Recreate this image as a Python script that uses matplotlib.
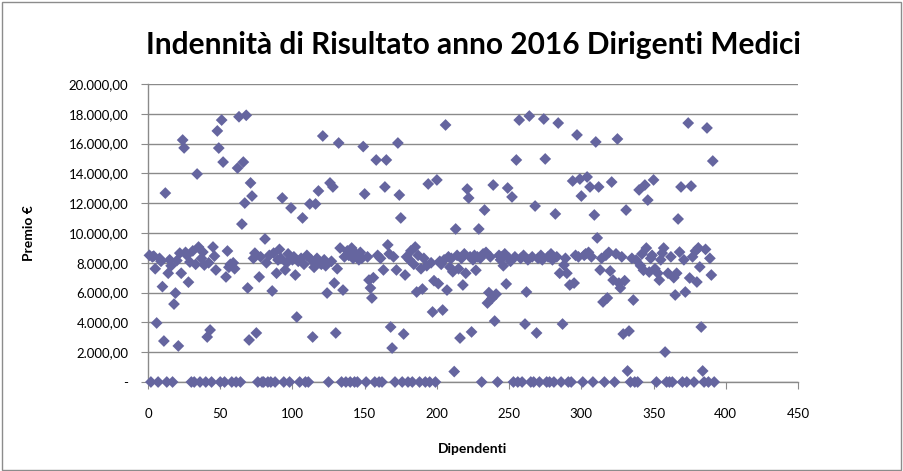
import matplotlib
matplotlib.use("Agg")
import matplotlib.pyplot as plt
from matplotlib.ticker import FixedLocator, FuncFormatter
from matplotlib.patches import Rectangle

title = "Indennità di Risultato anno 2016 Dirigenti Medici"
x_label = "Dipendenti"
y_label = "Premio €"

# Premio per dipendente (indice 1..392)
premio = [
    8500, 0, 8400, 8450, 7600, 3960, 0, 8300, 8100, 6400,
    2750, 12680, 0, 7300, 8200, 7800, 0, 5230, 5970, 8150,
    2420, 8650, 7300, 16240, 15710, 8700, 8500, 6700, 8050, 0,
    8800, 0, 7900, 13960, 9060, 0, 8300, 8720, 7850, 0,
    3020, 8000, 3490, 0, 9060, 8450, 7520, 16850, 15700, 0,
    17580, 14760, 0, 7050, 8790, 7700, 7900, 0, 8000, 7600,
    0, 14360, 17800, 0, 10600, 14760, 12010, 17900, 6310, 2820,
    13360, 12480, 8300, 8650, 3290, 0, 7050, 8400, 0, 0,
    9600, 8000, 0, 8500, 0, 6110, 8650, 0, 7300, 8190,
    8900, 8300, 12350, 0, 7520, 8000, 8600, 0, 11680, 8200,
    8400, 7180, 4360, 8100, 0, 8300, 11010, 7900, 0, 8500,
    0, 11950, 8200, 3020, 7700, 11950, 8300, 12820, 8000, 7900,
    16510, 8200, 7800, 5970, 0, 13360, 8100, 13090, 6640, 3290,
    7600, 16040, 8990, 0, 6170, 8400, 0, 8800, 8500, 0,
    8990, 8300, 0, 8600, 0, 8200, 8700, 8300, 15800, 12620,
    0, 8400, 6840, 6310, 5640, 7000, 0, 14900, 8500, 0,
    8300, 0, 7520, 13090, 14900, 9200, 8600, 3690, 2280, 8400,
    0, 7520, 16040, 12550, 11010, 0, 3220, 7180, 8400, 0,
    8200, 8800, 0, 7900, 9060, 6040, 8500, 0, 7600, 6240,
    8300, 0, 7800, 13290, 0, 8000, 4700, 6800, 0, 13560,
    6600, 8100, 7900, 4830, 8200, 17250, 6170, 8400, 7700, 8300,
    7400, 700, 10270, 8500, 7600, 2950, 8300, 6510, 8600, 7300,
    12950, 12350, 8400, 3360, 8200, 8500, 7500, 8400, 10270, 8300,
    0, 8600, 11540, 8700, 5300, 6000, 8400, 5600, 13220, 4090,
    5900, 0, 8500, 8200, 8400, 7800, 8600, 6580, 13020, 8300,
    8100, 12420, 0, 8400, 14900, 0, 17580, 8300, 0, 8500,
    3890, 6040, 8200, 17850, 0, 8400, 0, 11810, 3290, 8300,
    0, 8500, 8200, 17650, 14970, 0, 8400, 0, 8600, 8200,
    0, 11280, 8400, 17380, 7300, 0, 3890, 7850, 8300, 7300,
    0, 6510, 0, 13490, 6640, 8500, 16580, 8400, 13620, 12480,
    0, 8500, 8600, 13760, 8700, 13090, 8400, 0, 11210, 16110,
    9670, 13090, 7520, 8300, 5370, 0, 8500, 5640, 8700, 7450,
    13420, 6840, 0, 8600, 16310, 6640, 6310, 8400, 3220, 6800,
    11540, 740, 3420, 0, 8300, 5500, 0, 8190, 0, 12890,
    7800, 8600, 7500, 13220, 8990, 12210, 7380, 8300, 8500, 13560,
    7600, 0, 7300, 6840, 8200, 8650, 8990, 2010, 0, 7300,
    0, 8400, 0, 7000, 5840, 7300, 10940, 8720, 13090, 0,
    8200, 6040, 0, 17380, 6980, 13150, 8400, 0, 8790, 6710,
    9000, 7720, 3690, 740, 0, 8900, 17050, 0, 8300, 7180,
    14830, 0,
]
dipendenti = list(range(1, len(premio) + 1))

y_ticks = list(range(0, 20001, 2000))
x_ticks = list(range(0, 451, 50))

plt.rcParams['font.family'] = ['Lato', 'DejaVu Sans']

fig = plt.figure(figsize=(9.04, 4.71), dpi=100)
fig.patches.append(Rectangle((0.002, 0.003), 0.995, 0.993, transform=fig.transFigure,
                             fill=False, edgecolor='#8c8c8c', linewidth=1.0))

ax = fig.add_axes([148/904, (471-382)/471, 650/904, 298/471])
ax.scatter(dipendenti, premio, marker='D', s=36, color='#65659f', edgecolors='none',
           zorder=3, clip_on=False)

ax.set_xlim(0, 450)
ax.set_ylim(0, 20000)
ax.xaxis.set_major_locator(FixedLocator(x_ticks))
ax.yaxis.set_major_locator(FixedLocator(y_ticks))

def fmt_y(v, pos):
    if v == 0:
        return "-"
    s = f"{v:,.2f}"
    return s.replace(",", "X").replace(".", ",").replace("X", ".")

ax.yaxis.set_major_formatter(FuncFormatter(fmt_y))
ax.grid(axis='y', color='#8a8a8a', linewidth=1.0, zorder=0)
for side in ['top', 'right']:
    ax.spines[side].set_visible(False)
for side in ['left', 'bottom']:
    ax.spines[side].set_color('#8a8a8a')
    ax.spines[side].set_linewidth(1.0)
ax.tick_params(axis='both', direction='out', length=5, color='#8a8a8a', labelsize=9.5,
               labelcolor='black')
ax.tick_params(axis='y', pad=9)
ax.tick_params(axis='x', pad=14)

ax.set_xlabel(x_label, fontsize=10, fontweight='bold', labelpad=16)
ax.set_ylabel(y_label, fontsize=10, fontweight='bold', labelpad=24)
fig.text(0.524, 0.905, title, ha='center', va='center', fontsize=21.5, fontweight='bold')

fig.savefig("out.png", dpi=100)
